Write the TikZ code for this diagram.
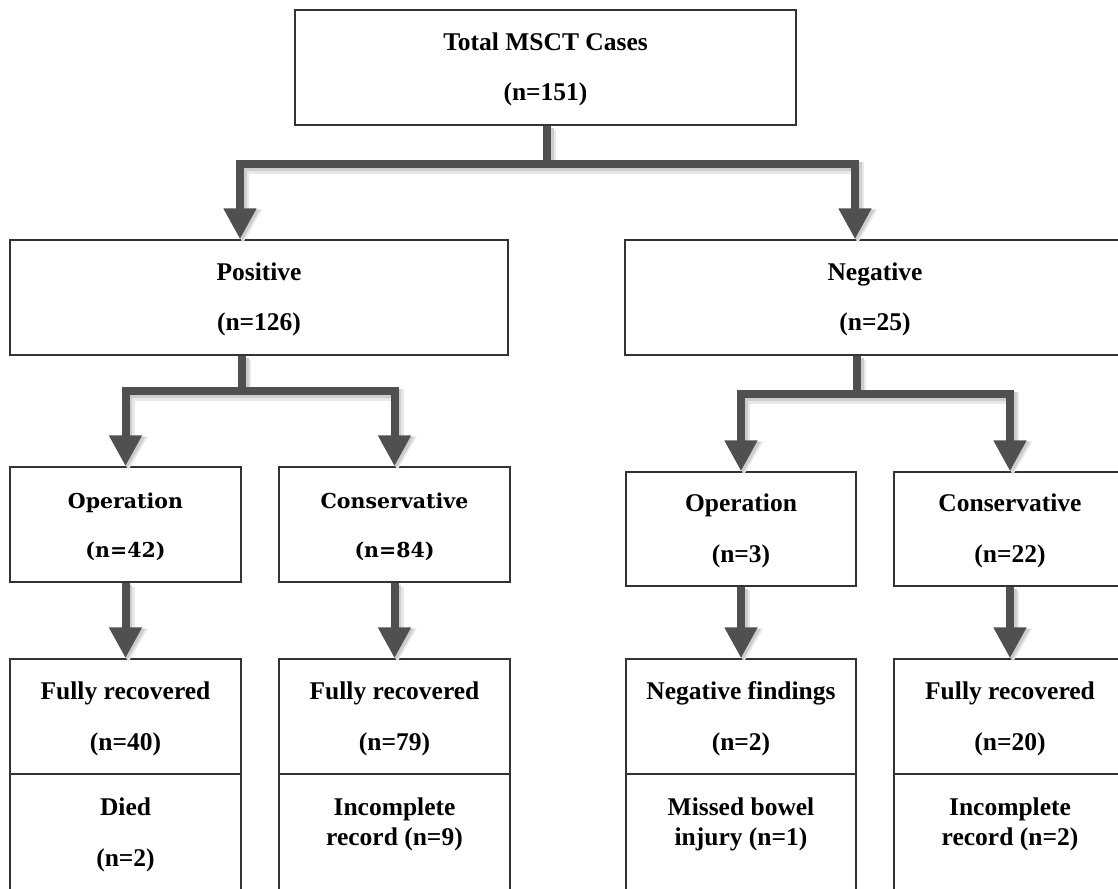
\documentclass[tikz,border=0pt]{standalone}
\usepackage{fontspec}
\setmainfont{Liberation Serif}
\newfontfamily\cambfont{DejaVu Serif}
\usetikzlibrary{arrows.meta}
\definecolor{conncol}{HTML}{505050}
\definecolor{boxcol}{HTML}{333333}
\definecolor{shadcol}{HTML}{CDCDCD}
\definecolor{shadsoft}{HTML}{E8E8E8}
\newcommand{\tstrut}{\rule[-7pt]{0pt}{30pt}}
\newcommand{\myconnectors}[1]{%
  \draw[#1] ([xshift=1.5pt]top.south) -- ++(0,38) -| ([xshift=-19pt]pos.north);
  \draw[#1] ([xshift=1.5pt]top.south) -- ++(0,38) -| ([xshift=-20pt]neg.north);
  \draw[#1] ([xshift=-17pt]pos.south) -- ++(0,35) -| (op1.north);
  \draw[#1] ([xshift=-17pt]pos.south) -- ++(0,35) -| (cons1.north);
  \draw[#1] ([xshift=-18pt]neg.south) -- ++(0,38) -| (op2.north);
  \draw[#1] ([xshift=-18pt]neg.south) -- ++(0,38) -| (cons2.north);
  \draw[#1] (op1.south) -- (b1.north);
  \draw[#1] (cons1.south) -- (b2.north);
  \draw[#1] (op2.south) -- (b3.north);
  \draw[#1] (cons2.south) -- (b4.north);
}
\begin{document}
\begin{tikzpicture}[x=1pt,y=-1pt,
  box/.style={draw=boxcol, line width=1.4pt, inner sep=0pt, align=center,
    font=\fontsize{25.5}{30}\selectfont\bfseries},
  cbox/.style={box, font=\fontsize{20.5}{30}\selectfont\cambfont\bfseries},
  txt/.style={inner sep=0pt, align=center, anchor=north,
    font=\fontsize{25.5}{30}\selectfont\bfseries},
  conn/.style={draw=conncol, line width=8pt,
    -{Triangle[width=31pt,length=31pt]}},
  shad/.style={draw=shadcol, line width=9pt,
    -{Triangle[width=33pt,length=32pt]}},
  shadb/.style={draw=shadsoft, line width=12pt,
    -{Triangle[width=36pt,length=34pt]}}
]
\useasboundingbox (0,0) rectangle (1118,888);
% level 0
\node[box, minimum width=501pt, minimum height=115pt] (top) at (545.5,67.5)
  {\tstrut Total MSCT Cases\\[20pt]\tstrut (n=151)};
% level 1
\node[box, minimum width=498pt, minimum height=115pt] (pos) at (259,297.5)
  {\tstrut Positive\\[20pt]\tstrut (n=126)};
\node[box, minimum width=500pt, minimum height=115pt] (neg) at (875,297.5)
  {\tstrut Negative\\[20pt]\tstrut (n=25)};
% level 2
\node[cbox, minimum width=231pt, minimum height=115pt] (op1) at (125.5,524.5)
  {\tstrut Operation\\[19pt]\tstrut (n=42)};
\node[cbox, minimum width=231pt, minimum height=115pt] (cons1) at (394.5,524.5)
  {\tstrut Conservative\\[19pt]\tstrut (n=84)};
\node[box, minimum width=230pt, minimum height=114pt] (op2) at (741,529)
  {\tstrut Operation\\[21pt]\tstrut (n=3)};
\node[box, minimum width=232pt, minimum height=114pt] (cons2) at (1010,529)
  {\tstrut Conservative\\[21pt]\tstrut (n=22)};
% level 3 upper
\node[box, minimum width=231pt, minimum height=115pt] (b1) at (125.5,716.5)
  {\tstrut Fully recovered\\[21pt]\tstrut (n=40)};
\node[box, minimum width=231pt, minimum height=115pt] (b2) at (394.5,716.5)
  {\tstrut Fully recovered\\[21pt]\tstrut (n=79)};
\node[box, minimum width=230pt, minimum height=115pt] (b3) at (741,716.5)
  {\tstrut Negative findings\\[21pt]\tstrut (n=2)};
\node[box, minimum width=232pt, minimum height=115pt] (b4) at (1010,716.5)
  {\tstrut Fully recovered\\[21pt]\tstrut (n=20)};
% level 3 lower
\node[box, minimum width=231pt, minimum height=130pt] (d1) at (125.5,839) {};
\node[box, minimum width=231pt, minimum height=130pt] (d2) at (394.5,839) {};
\node[box, minimum width=230pt, minimum height=130pt] (d3) at (741,839) {};
\node[box, minimum width=232pt, minimum height=130pt] (d4) at (1010,839) {};
\node[txt] (t1) at (125.5,792) {\tstrut Died\\[21pt]\tstrut (n=2)};
\node[txt] (t2) at (394.5,792) {\tstrut Incomplete\\\tstrut record (n=9)};
\node[txt] (t3) at (741,792) {\tstrut Missed bowel\\\tstrut injury (n=1)};
\node[txt] (t4) at (1010,792) {\tstrut Incomplete\\\tstrut record (n=2)};
% connectors with soft shadow
\begin{scope}[transform canvas={shift={(3,4)}}]
  \myconnectors{shadb}
\end{scope}
\begin{scope}[transform canvas={shift={(2,2.5)}}]
  \myconnectors{shad}
\end{scope}
\myconnectors{conn}
\end{tikzpicture}
\end{document}
